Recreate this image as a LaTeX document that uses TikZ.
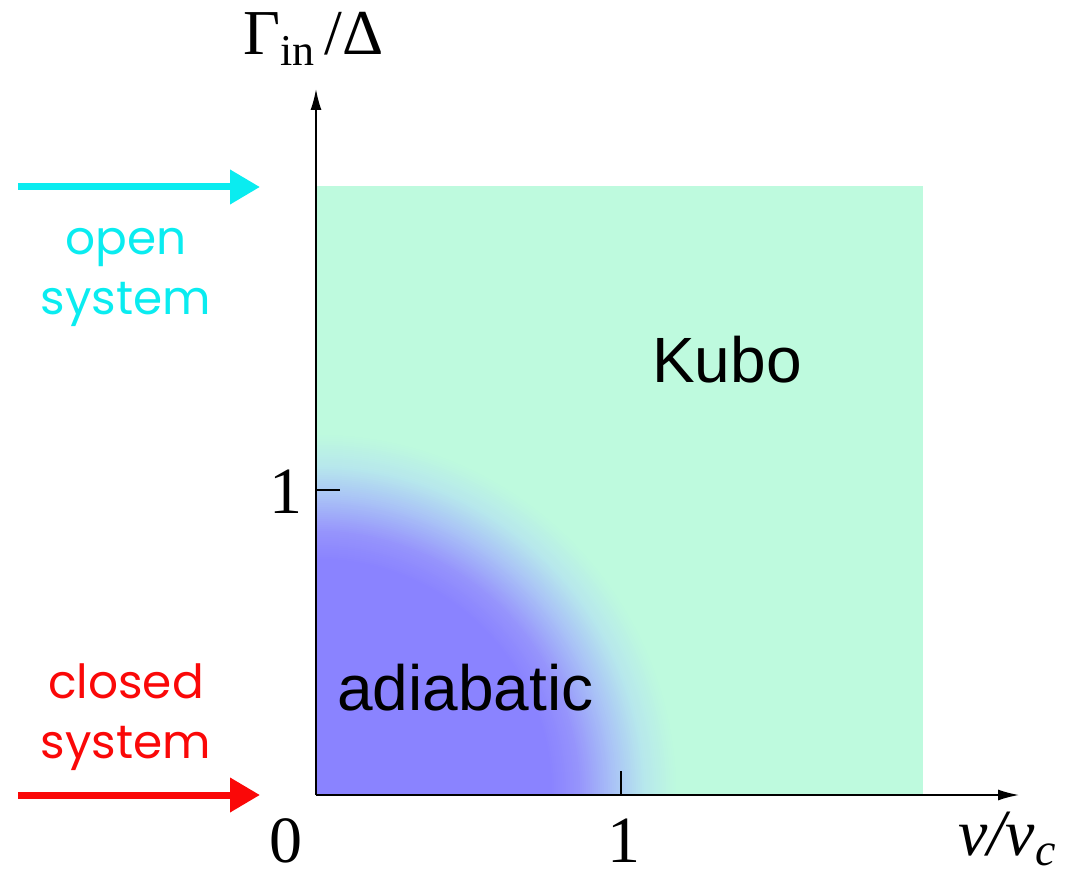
\documentclass[tikz,border=0pt]{standalone}
\usepackage{fontspec}
\setmainfont{Liberation Serif}
\newfontfamily\arialf{Liberation Sans}
\newfontfamily\gothic{Poppins}
\usetikzlibrary{arrows.meta}
\definecolor{kgreen}{RGB}{190,250,222}
\definecolor{cA}{RGB}{138,131,255}
\definecolor{cB}{RGB}{150,148,252}
\definecolor{cC}{RGB}{170,196,246}
\definecolor{cD}{RGB}{183,232,236}
\definecolor{opencol}{RGB}{10,236,240}
\definecolor{closedcol}{RGB}{250,8,8}
\tikzset{
  axis/.style={line width=1.6pt, -{Latex[length=21pt,width=11pt]}},
  tick/.style={line width=1.8pt},
  bigarrow/.style={line width=7pt, -{Triangle[length=30pt,width=33pt]}},
  numlab/.style={inner sep=0pt, anchor=base, font=\fontsize{66}{70}\selectfont},
  region/.style={inner sep=0pt, anchor=base west, font=\arialf\fontsize{64}{70}\selectfont},
  syslab/.style={inner sep=0pt, anchor=base, font=\gothic\fontsize{47}{52}\selectfont},
}
\begin{document}
\begin{tikzpicture}[x=1pt,y=-1pt]
\useasboundingbox (0,0) rectangle (1066,877);
\coordinate (O) at (316,795);
% coloured phase diagram
\begin{scope}
  \clip (316,186) rectangle (923,795);
  \fill[kgreen] (316,186) rectangle (923,795);
  \foreach \r in {362,360,...,330}{
    \pgfmathtruncatemacro\t{(362-\r)/32*100}
    \fill[cD!\t!kgreen] (O) circle (\r pt);}
  \foreach \r in {330,328,...,300}{
    \pgfmathtruncatemacro\t{(330-\r)/30*100}
    \fill[cC!\t!cD] (O) circle (\r pt);}
  \foreach \r in {300,298,...,264}{
    \pgfmathtruncatemacro\t{(300-\r)/36*100}
    \fill[cB!\t!cC] (O) circle (\r pt);}
  \foreach \r in {264,262,...,236}{
    \pgfmathtruncatemacro\t{(264-\r)/28*100}
    \fill[cA!\t!cB] (O) circle (\r pt);}
  \fill[cA] (O) circle (236pt);
\end{scope}
% axes
\coordinate (xend) at (1019,795);
\coordinate (yend) at (316,89);
\draw[axis] (O) -- (xend);
\draw[axis] (O) -- (yend);
\coordinate (xt1) at (621,795);
\coordinate (xt2) at (621,771);
\coordinate (yt1) at (316,490);
\coordinate (yt2) at (340,490);
\draw[tick] (xt1) -- (xt2);
\draw[tick] (yt1) -- (yt2);
% tick labels
\node[numlab] (zero) at (286,862) {0};
\node[numlab] (xone) at (624,862) {1};
\node[numlab] (yone) at (286,513) {1};
% axis labels
\node[inner sep=0pt, anchor=base west, font=\fontsize{64}{70}\selectfont] (ylab) at (243,55)
  {Γ\raisebox{-11pt}{\fontsize{44}{48}\selectfont in}\hspace{10pt}/Δ};
\node[inner sep=0pt, anchor=base west, font=\fontsize{66}{70}\selectfont] (xlab) at (958,855)
  {\itshape v/v\raisebox{-10pt}{\fontsize{46}{50}\selectfont c}};
% region labels
\node[region] (kubo) at (652,382) {Kubo};
\node[region] (adiab) at (337,710) {adiabatic};
% open / closed system
\coordinate (oa) at (18,187);
\coordinate (ob) at (260,187);
\draw[bigarrow, opencol] (oa) -- (ob);
\node[syslab, text=opencol] (open1) at (126,255) {open};
\node[syslab, text=opencol] (open2) at (126,315) {system};
\coordinate (ca) at (18,795);
\coordinate (cb) at (260,795);
\draw[bigarrow, closedcol] (ca) -- (cb);
\node[syslab, text=closedcol] (closed1) at (126,698) {closed};
\node[syslab, text=closedcol] (closed2) at (126,758) {system};
\end{tikzpicture}
\end{document}
